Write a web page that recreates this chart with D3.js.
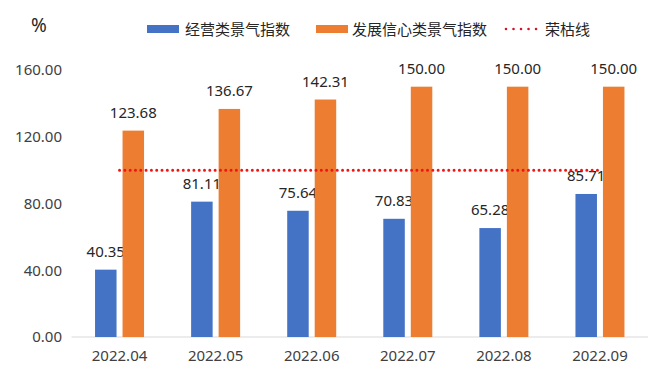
<!DOCTYPE html>
<html>
<head>
<meta charset="utf-8">
<script src="https://cdn.jsdelivr.net/npm/d3@7"></script>
<style>
  html, body { margin: 0; padding: 0; background: #fff; }
  svg { display: block; }
  text { font-family: "Noto Sans", "Noto Sans CJK SC", sans-serif; }
</style>
</head>
<body>
<svg id="chart" width="660" height="371"></svg>
<script>
const categories = ["2022.04", "2022.05", "2022.06", "2022.07", "2022.08", "2022.09"];
const seriesNames = ["经营类景气指数", "发展信心类景气指数"];
const operating = [40.35, 81.11, 75.64, 70.83, 65.28, 85.71];
const confidence = [123.68, 136.67, 142.31, 150.00, 150.00, 150.00];
const thresholdName = "荣枯线";
const threshold = 100;
const yTicks = [0, 40, 80, 120, 160];
const colors = ["#4472C4", "#ED7D31"];
const lineColor = "#F01414";

const svg = d3.select("#chart");
const W = 660, H = 371;

const x = d3.scaleBand().domain(categories).range([71.5, 648]).paddingInner(0).paddingOuter(0);
const y = d3.scaleLinear().domain([0, 160]).range([337, 70]);
const barW = 21.5, gap = 6;
const x1 = d3.scaleOrdinal().domain([0, 1]).range([-(gap / 2 + barW), gap / 2]);

// axis line
svg.append("line")
  .attr("x1", x.range()[0]).attr("x2", x.range()[1])
  .attr("y1", y(0)).attr("y2", y(0))
  .attr("stroke", "#D9D9D9").attr("stroke-width", 1);

// y axis
const yAxis = d3.axisLeft(y).tickValues(yTicks).tickFormat(d3.format(".2f")).tickSize(0).tickPadding(0);
const gy = svg.append("g").attr("transform", "translate(62,0)").call(yAxis);
gy.select(".domain").remove();
gy.selectAll("text").attr("font-size", 15).attr("fill", "#404040")
  .attr("font-family", '"Noto Sans", sans-serif');

// x axis
const xAxis = d3.axisBottom(x).tickSize(0).tickPadding(0);
const gx = svg.append("g").attr("transform", "translate(0,350)").call(xAxis);
gx.select(".domain").remove();
gx.selectAll("text").attr("font-size", 15).attr("fill", "#404040")
  .attr("dy", "0.76em")
  .attr("font-family", '"Noto Sans", sans-serif');

// bars
const data = [operating, confidence];
data.forEach((vals, si) => {
  const g = svg.append("g");
  g.selectAll("rect").data(vals).join("rect")
    .attr("x", (d, i) => x(categories[i]) + x.bandwidth() / 2 + x1(si))
    .attr("y", d => y(d))
    .attr("width", barW)
    .attr("height", d => y(0) - y(d))
    .attr("fill", colors[si]);
  g.selectAll("text").data(vals).join("text")
    .attr("x", (d, i) => x(categories[i]) + x.bandwidth() / 2 + x1(si) + barW / 2)
    .attr("y", d => y(d) - 13)
    .attr("text-anchor", "middle")
    .attr("font-size", 15)
    .attr("fill", "#262626")
    .text(d => d3.format(".2f")(d));
});

// threshold line
const cx0 = x(categories[0]) + x.bandwidth() / 2;
const cx1 = x(categories[categories.length - 1]) + x.bandwidth() / 2;
svg.append("line")
  .attr("x1", cx0).attr("x2", cx1)
  .attr("y1", y(threshold)).attr("y2", y(threshold))
  .attr("stroke", lineColor).attr("stroke-width", 3)
  .attr("stroke-linecap", "round")
  .attr("stroke-dasharray", "0.01 5.3");

// "%" unit
svg.append("text").attr("x", 31).attr("y", 31.5)
  .attr("font-size", 19).attr("fill", "#262626").text("%");

// legend
const lg = svg.append("g");
const legendItems = [
  { name: seriesNames[0], type: "rect", color: colors[0], sx: 147, tx: 185 },
  { name: seriesNames[1], type: "rect", color: colors[1], sx: 316, tx: 352 },
  { name: thresholdName, type: "line", color: lineColor, sx: 505, tx: 545 }
];
legendItems.forEach(it => {
  if (it.type === "rect") {
    lg.append("rect").attr("x", it.sx).attr("y", 25).attr("width", 32).attr("height", 8).attr("fill", it.color);
  } else {
    lg.append("line").attr("x1", it.sx + 1).attr("x2", it.sx + 32).attr("y1", 29).attr("y2", 29)
      .attr("stroke", "#D0142C").attr("stroke-width", 2.6).attr("stroke-linecap", "round")
      .attr("stroke-dasharray", "0.01 7.5");
  }
  lg.append("text").attr("x", it.tx).attr("y", 34.5)
    .attr("font-size", 15).attr("fill", "#262626")
    .attr("font-family", '"Noto Sans CJK SC", sans-serif')
    .text(it.name);
});
</script>
</body>
</html>
